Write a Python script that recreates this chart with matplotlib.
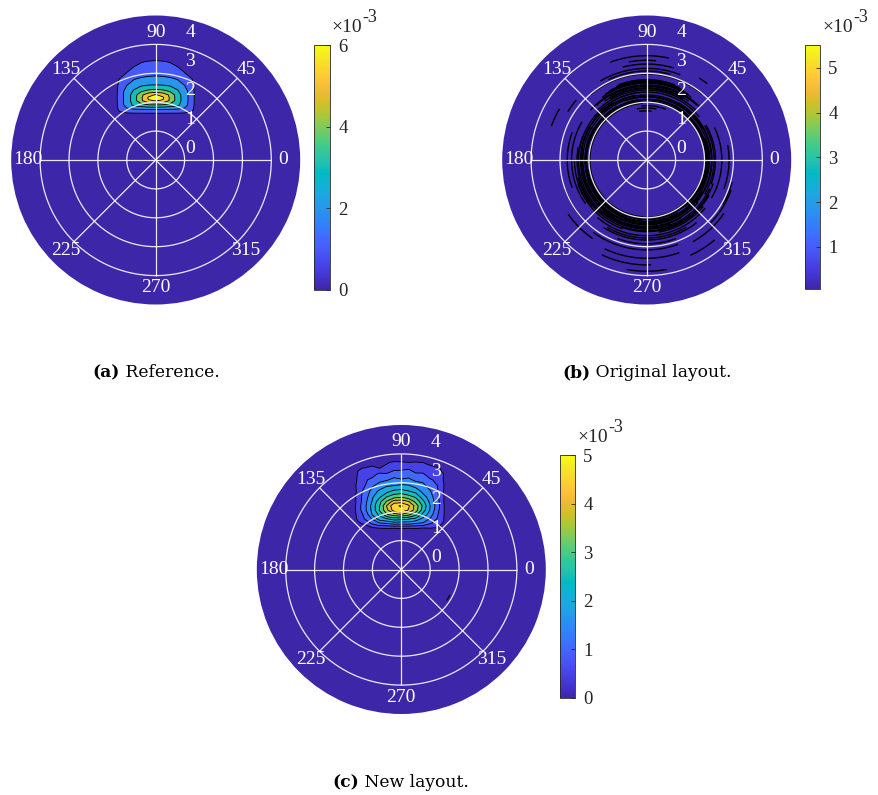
import numpy as np
import matplotlib
matplotlib.use("Agg")
import matplotlib.pyplot as plt
from matplotlib.colors import LinearSegmentedColormap, Normalize
from matplotlib.cm import ScalarMappable

W, H = 879, 795
fig = plt.figure(figsize=(W / 100, H / 100), dpi=100)

# ---------------------------------------------------------------- colormap
PARULA_ANCHORS = [
    (0.2422, 0.1504, 0.6603), (0.2647, 0.1978, 0.7952), (0.2783, 0.2559, 0.8991),
    (0.2810, 0.3228, 0.9579), (0.2699, 0.3892, 0.9906), (0.2206, 0.4603, 0.9973),
    (0.1786, 0.5289, 0.9682), (0.1540, 0.5902, 0.9218), (0.1248, 0.6459, 0.8883),
    (0.0689, 0.6948, 0.8394), (0.0067, 0.7312, 0.7660), (0.1408, 0.7584, 0.6842),
    (0.2161, 0.7843, 0.5923), (0.3406, 0.8008, 0.4789), (0.5044, 0.7993, 0.3480),
    (0.6720, 0.7793, 0.2227), (0.8203, 0.7498, 0.1535), (0.9393, 0.7288, 0.2100),
    (0.9970, 0.7659, 0.2199), (0.9786, 0.8386, 0.1766), (0.9597, 0.9135, 0.1423),
    (0.9769, 0.9839, 0.0805),
]
parula = LinearSegmentedColormap.from_list(
    "parula", list(zip(np.linspace(0, 1, len(PARULA_ANCHORS)), PARULA_ANCHORS)), N=256)
BG = parula(0.0)

LABEL_FONT = "Liberation Serif"
CAPTION_FONT = "DejaVu Serif"
TEXT_DARK = "#262626"

# ---------------------------------------------------------------- polar frame
R_MIN, R_MAX = -1, 4
RING_VALUES = [0, 1, 2, 3]
RADIAL_TICKS = [0, 1, 2, 3, 4]
ANGLE_TICKS = [0, 45, 90, 135, 180, 225, 270, 315]
SPOKE_END = 3

# ---------------------------------------------------------------- (a) reference spectrum
# half grid (mirrored about the 90 deg axis); u across, v along the 90 deg axis
ref_u = [0.0, 0.25, 0.5, 0.75, 1.0, 1.25, 1.5, 1.75]
ref_v = [1.45, 1.6, 1.75, 1.9, 2.05, 2.15, 2.25, 2.4, 2.6, 2.8, 3.0, 3.2, 3.4, 3.6, 3.8]
ref_e3 = [  # values x 1e-3
    [0.00, 0.00, 0.00, 0.00, 0.00, 0.00, 0.0, 0.0],
    [0.85, 0.85, 0.85, 0.85, 0.80, 0.70, 0.0, 0.0],
    [2.00, 2.00, 1.95, 1.90, 1.80, 1.30, 0.0, 0.0],
    [3.90, 3.85, 3.60, 3.25, 2.40, 1.45, 0.0, 0.0],
    [6.05, 5.90, 4.80, 3.55, 2.45, 1.50, 0.0, 0.0],
    [6.35, 6.15, 4.85, 3.55, 2.45, 1.50, 0.0, 0.0],
    [6.10, 5.70, 4.75, 3.50, 2.45, 1.50, 0.0, 0.0],
    [4.30, 4.15, 3.75, 3.10, 2.35, 1.45, 0.0, 0.0],
    [3.00, 2.95, 2.80, 2.50, 1.95, 1.30, 0.0, 0.0],
    [2.30, 2.25, 2.15, 1.95, 1.55, 1.05, 0.0, 0.0],
    [1.75, 1.70, 1.60, 1.40, 1.05, 0.50, 0.0, 0.0],
    [1.40, 1.35, 1.25, 1.05, 0.70, 0.30, 0.0, 0.0],
    [1.10, 1.05, 0.95, 0.70, 0.40, 0.10, 0.0, 0.0],
    [0.60, 0.55, 0.45, 0.30, 0.10, 0.00, 0.0, 0.0],
    [0.00, 0.00, 0.00, 0.00, 0.00, 0.00, 0.0, 0.0],
]
ref_levels_e3 = [1, 2, 3, 4, 5, 6, 7]
ref_clim_e3 = (0, 6)
ref_cticks = [0, 2, 4, 6]

# ---------------------------------------------------------------- (b) original layout
# scattered contour fragments: radius, start angle, end angle (deg)
orig_arc_r = [
    0.97, 1.00, 1.03, 1.06, 1.09, 1.12, 1.15, 1.18, 1.21, 1.24,
    1.27, 1.30, 1.33, 1.36, 1.39, 1.42, 1.45, 1.48, 1.52, 1.55,
    0.99, 1.02, 1.05, 1.08, 1.11, 1.14, 1.17, 1.20, 1.23, 1.26,
    1.29, 1.32, 1.35, 1.38, 1.41, 1.44, 1.47, 1.50, 1.53,
    1.10, 1.25, 1.35, 1.50, 1.57, 1.69, 1.75,
    1.60, 1.66, 1.72, 1.78, 1.98, 2.08, 2.17, 2.32, 2.45, 2.61,
    2.37, 0.80, 0.70, 0.88, 1.62, 1.70, 1.77, 1.90, 2.00, 2.11,
    2.25, 2.40, 2.63, 2.63, 2.85, 2.10, 2.30, 1.60, 1.75, 1.60,
    1.85, 2.05, 2.50, 2.20,
]
orig_arc_t0 = [
    95, 150, 20, 190, -50, 120, 200, 0, 150, 225,
    100, 190, 330, 160, 230, 45, 195, 250, 200, 60,
    200, 30, 260, 100, -30, 150, 250, 30, 170, -40,
    120, 230, 100, -20, 170, 280, 60, 180, 280,
    50, 45, 40, 55, 48, 58, 66,
    45, 55, 62, 70, 50, 75, 69, 74, 85, 78,
    52, 80, 85, 70, 230, 240, 238, 250, 200, 234,
    300, 245, 245, 295, 260, 315, 215, 150, 160, -30,
    -20, 330, 150, 140,
]
orig_arc_t1 = [
    265, 340, 140, 400, 170, 300, 380, 110, 330, 420,
    240, 320, 390, 290, 335, 135, 300, 330, 250, 120,
    330, 160, 420, 250, 80, 260, 360, 150, 290, 60,
    200, 300, 170, 30, 230, 340, 120, 220, 320,
    130, 135, 140, 125, 132, 122, 112,
    138, 125, 118, 110, 130, 115, 120, 104, 100, 110,
    57, 100, 98, 95, 320, 300, 308, 290, 222, 290,
    325, 289, 272, 310, 280, 340, 235, 215, 200, 25,
    10, 345, 160, 148,
]
orig_clim_e3 = (0.06, 5.51)
orig_cticks = [1, 2, 3, 4, 5]

# ---------------------------------------------------------------- (c) new layout
new_u = [-1.75, -1.5, -1.25, -1.0, -0.75, -0.5, -0.25, 0.0, 0.25, 0.5, 0.75, 1.0, 1.25, 1.5, 1.75]
new_v = [1.3, 1.45, 1.6, 1.75, 1.9, 2.05, 2.2, 2.35, 2.5, 2.7, 2.9, 3.1, 3.3, 3.5, 3.7, 3.9]
new_e3 = [  # values x 1e-3
    [0, 0.00, 0.00, 0.00, 0.00, 0.00, 0.00, 0.00, 0.00, 0.00, 0.00, 0.00, 0.00, 0.00, 0],
    [0, 0.00, 0.20, 0.50, 0.58, 0.62, 0.60, 0.65, 0.60, 0.63, 0.55, 0.57, 0.50, 0.15, 0],
    [0, 0.40, 0.65, 1.10, 1.45, 1.55, 1.75, 1.70, 1.75, 1.55, 1.45, 1.05, 0.80, 0.40, 0],
    [0, 0.60, 1.05, 1.55, 2.25, 2.45, 2.75, 2.70, 2.55, 2.35, 1.85, 1.45, 0.95, 0.45, 0],
    [0, 0.70, 1.15, 2.05, 2.65, 3.45, 3.75, 3.95, 3.65, 3.15, 2.35, 1.75, 1.05, 0.45, 0],
    [0, 0.75, 1.40, 2.15, 3.05, 3.85, 4.75, 4.90, 4.45, 3.75, 2.75, 1.95, 1.15, 0.45, 0],
    [0, 0.75, 1.40, 2.20, 3.00, 4.05, 4.90, 5.05, 4.60, 3.80, 2.90, 2.00, 1.25, 0.45, 0],
    [0, 0.70, 1.35, 2.05, 2.85, 3.55, 4.25, 4.30, 4.05, 3.35, 2.65, 1.85, 1.20, 0.40, 0],
    [0, 0.75, 1.25, 1.95, 2.45, 3.05, 3.35, 3.50, 3.25, 2.95, 2.25, 1.75, 1.10, 0.45, 0],
    [0, 0.65, 1.25, 1.65, 2.15, 2.35, 2.65, 2.70, 2.55, 2.35, 1.85, 1.55, 1.05, 0.40, 0],
    [0, 0.70, 1.00, 1.45, 1.65, 1.95, 2.00, 2.10, 2.05, 1.80, 1.65, 1.25, 1.00, 0.45, 0],
    [0, 0.60, 0.95, 1.10, 1.40, 1.45, 1.65, 1.55, 1.60, 1.40, 1.35, 1.05, 0.90, 0.40, 0],
    [0, 0.55, 0.75, 0.85, 1.10, 1.05, 1.25, 1.20, 1.30, 1.05, 1.05, 0.80, 0.75, 0.45, 0],
    [0, 0.45, 0.55, 0.60, 0.50, 0.65, 0.85, 0.90, 0.95, 0.80, 0.75, 0.60, 0.55, 0.40, 0],
    [0, 0.00, 0.10, 0.35, 0.20, 0.45, 0.60, 0.58, 0.52, 0.55, 0.50, 0.40, 0.30, 0.15, 0],
    [0, 0.00, 0.00, 0.00, 0.00, 0.00, 0.00, 0.00, 0.00, 0.00, 0.00, 0.00, 0.00, 0.00, 0],
]
new_levels_e3 = [0.5, 1.0, 1.5, 2.0, 2.5, 3.0, 3.5, 4.0, 4.5, 5.0, 5.5]
new_clim_e3 = (0, 5)
new_cticks = [0, 1, 2, 3, 4, 5]
# isolated small contour fragment in the lower right quadrant
new_frag_r = [0.90]
new_frag_t0 = [-34]
new_frag_t1 = [-28]

# ---------------------------------------------------------------- layout (figure pixels)
POLAR_BOX = {"a": (155.7, 160.0), "b": (646.7, 160.0), "c": (401.3, 569.5)}
DISK_R = 144.5
CBAR_BOX = {"a": (314, 45, 16, 245), "b": (805, 45, 15, 244), "c": (560, 455, 15, 243)}
CAPTIONS = {"a": (155.7, 377.3, "(a)", "Reference."),
            "b": (647.0, 377.3, "(b)", "Original layout."),
            "c": (400.8, 787.3, "(c)", "New layout.")}


def px_rect(x0, y0, w, h):
    return [x0 / W, 1 - (y0 + h) / H, w / W, h / H]


def polar_axes(key):
    cx, cy = POLAR_BOX[key]
    ax = fig.add_axes(px_rect(cx - DISK_R, cy - DISK_R, 2 * DISK_R, 2 * DISK_R),
                      projection="polar")
    ax.set_rlim(R_MIN, R_MAX)
    ax.set_facecolor(BG)
    ax.grid(False)
    ax.set_xticks([])
    ax.set_yticks([])
    ax.spines["polar"].set_visible(False)
    return ax


def draw_frame(ax):
    th = np.linspace(0, 2 * np.pi, 721)
    gl = dict(color="white", lw=0.9, alpha=0.9, zorder=5, solid_capstyle="butt")
    for rv in RING_VALUES:
        ax.plot(th, np.full_like(th, rv), **gl)
    for a in ANGLE_TICKS:
        ax.plot([np.radians(a)] * 2, [R_MIN, SPOKE_END], **gl)
    for a in ANGLE_TICKS:
        ax.text(np.radians(a), 3.42, str(a), color="white", ha="center", va="center",
                family=LABEL_FONT, fontsize=14, zorder=6)
    for k in RADIAL_TICKS:
        x, y = 1.19, 0.405 + k
        ax.text(np.arctan2(y, x), np.hypot(x, y) + R_MIN, str(k), color="white",
                ha="center", va="center", family=LABEL_FONT, fontsize=14, zorder=6)


def draw_arcs(ax, radii, t0s, t1s, lw):
    for r, t0, t1 in zip(radii, t0s, t1s):
        th = np.radians(np.linspace(t0, t1, 200))
        ax.plot(th, np.full_like(th, r), color="black", lw=lw, zorder=2)


def cart_grid(u, v):
    U, V = np.meshgrid(np.asarray(u, float), np.asarray(v, float))
    return np.arctan2(V, U), np.hypot(U, V) + R_MIN


def draw_field(ax, u, v, z_e3, levels_e3, clim_e3):
    TH, RR = cart_grid(u, v)
    Z = np.asarray(z_e3, float) * 1e-3
    lv = np.asarray(levels_e3, float) * 1e-3
    norm = Normalize(clim_e3[0] * 1e-3, clim_e3[1] * 1e-3)
    cols = [parula(norm(l)) for l in lv[:-1]]
    ax.contourf(TH, RR, Z, levels=lv, colors=cols, zorder=1, antialiased=True)
    ax.contour(TH, RR, Z, levels=lv[:-1], colors="k", linewidths=0.6, zorder=2)


def colorbar(key, clim_e3, ticks):
    x0, y0, w, h = CBAR_BOX[key]
    cax = fig.add_axes(px_rect(x0, y0, w, h))
    norm = Normalize(clim_e3[0] * 1e-3, clim_e3[1] * 1e-3)
    cb = fig.colorbar(ScalarMappable(norm=norm, cmap=parula), cax=cax)
    cb.set_ticks([t * 1e-3 for t in ticks])
    cb.set_ticklabels([str(t) for t in ticks])
    cb.outline.set_linewidth(0.6)
    cb.outline.set_edgecolor(TEXT_DARK)
    cax.tick_params(direction="in", length=3, width=0.6, color=TEXT_DARK,
                    labelcolor=TEXT_DARK, labelsize=13.5, pad=6)
    for lab in cax.get_yticklabels():
        lab.set_family(LABEL_FONT)
    # exponent marker
    fig.text((x0 + 17) / W, 1 - (y0 - 13.5) / H, "\u00d710", family=LABEL_FONT,
             fontsize=14, color=TEXT_DARK, ha="left", va="baseline")
    fig.text((x0 + 48.5) / W, 1 - (y0 - 23.5) / H, "-3", family=LABEL_FONT,
             fontsize=13, color=TEXT_DARK, ha="left", va="baseline")


# ---------------------------------------------------------------- panels
ax_a = polar_axes("a")
draw_field(ax_a, np.concatenate([-np.asarray(ref_u)[:0:-1], ref_u]), ref_v,
           np.hstack([np.asarray(ref_e3)[:, :0:-1], np.asarray(ref_e3)]),
           ref_levels_e3, ref_clim_e3)
draw_frame(ax_a)
colorbar("a", ref_clim_e3, ref_cticks)

ax_b = polar_axes("b")
draw_arcs(ax_b, orig_arc_r, orig_arc_t0, orig_arc_t1, lw=1.0)
draw_frame(ax_b)
colorbar("b", orig_clim_e3, orig_cticks)

ax_c = polar_axes("c")
draw_field(ax_c, new_u, new_v, new_e3, new_levels_e3, new_clim_e3)
draw_arcs(ax_c, new_frag_r, new_frag_t0, new_frag_t1, lw=0.8)
draw_frame(ax_c)
colorbar("c", new_clim_e3, new_cticks)

# ---------------------------------------------------------------- captions
renderer = fig.canvas.get_renderer()
for key, (xc, yb, tag, body) in CAPTIONS.items():
    t1 = fig.text(0, 1 - yb / H, tag, family=CAPTION_FONT, weight="bold",
                  fontsize=12.3, color="black", va="baseline")
    t2 = fig.text(0, 1 - yb / H, " " + body, family=CAPTION_FONT,
                  fontsize=12.3, color="black", va="baseline")
    w1 = t1.get_window_extent(renderer).width
    w2 = t2.get_window_extent(renderer).width
    x0 = xc - (w1 + w2) / 2
    t1.set_x(x0 / W)
    t2.set_x((x0 + w1) / W)

fig.savefig("out.png", dpi=100)
